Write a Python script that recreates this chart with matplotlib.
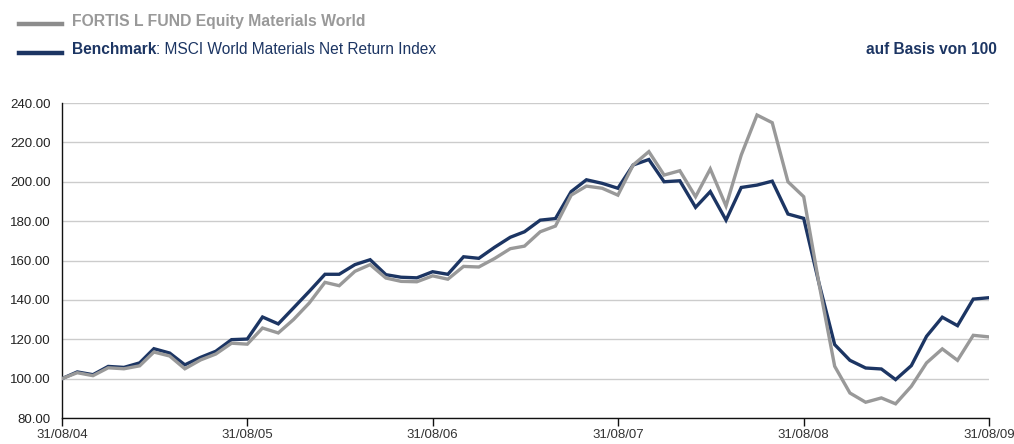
import numpy as np
import pandas as pd
import matplotlib
matplotlib.use("Agg")
import matplotlib.pyplot as plt

plt.rcParams['font.family'] = ['Liberation Sans', 'DejaVu Sans']

# monthly values, 31/08/04 .. 31/08/09
dates = pd.date_range('2004-08-31', '2009-08-31', freq='ME')

fund = [100, 103, 101.5, 105.5, 105, 106.5, 113.5, 111.5, 105, 109.5, 112.5, 118, 117.5,
        125.7, 123.2, 130, 138.4, 148.9, 147.2, 154.5, 157.9, 151.1, 149.4, 149.2, 152.2,
        150.5, 157, 156.7, 161, 166, 167.3, 174.6, 177.5, 193.2, 197.8, 196.7, 193.2,
        208.5, 215.3, 203.4, 205.6, 192.4, 206.5, 187.7, 213.6, 233.9, 230, 200, 192.4,
        148.4, 106.3, 92.7, 88, 90.2, 87.2, 96.1, 108, 115.1, 109.3, 122, 121.2]

benchmark = [100, 103.4, 102, 106.2, 105.7, 108, 115.2, 113, 107, 110.8, 113.9, 119.8, 120.1,
             131.3, 127.8, 135.9, 144.3, 153, 153, 157.9, 160.4, 152.8, 151.5, 151.2, 154.3,
             153, 161.9, 161.1, 166.7, 171.8, 174.6, 180.5, 181.3, 195, 201, 199.2, 196.7,
             208.5, 211.3, 200, 200.5, 187, 195, 180.5, 197.1, 198.3, 200.3, 183.6, 181.4,
             148.6, 117.3, 109.3, 105.4, 104.9, 99.5, 106.6, 121.5, 131.2, 126.9, 140.4, 141.1]

tick_dates = pd.to_datetime(['2004-08-31', '2005-08-31', '2006-08-31',
                             '2007-08-31', '2008-08-31', '2009-08-31'])
tick_labels = [d.strftime('%d/%m/%y') for d in tick_dates]
y_ticks = np.arange(80, 241, 20)

fund_color = '#999999'
bench_color = '#1c3563'

fig = plt.figure(figsize=(10.14, 4.44), dpi=100)
ax = fig.add_axes([62 / 1014, 1 - 418 / 444, (989 - 62) / 1014, (418 - 103) / 444])

ax.plot(dates, benchmark, color=bench_color, lw=2.4, solid_joinstyle='miter', zorder=3)
ax.plot(dates, fund, color=fund_color, lw=2.4, solid_joinstyle='miter', zorder=4)

ax.set_xlim(dates[0], dates[-1])
ax.set_ylim(80, 240)
ax.set_yticks(y_ticks)
ax.set_yticklabels([f'{v:.2f}' for v in y_ticks])
ax.set_xticks(tick_dates)
ax.set_xticklabels(tick_labels)
ax.yaxis.grid(True, color='#cccccc', lw=1.0)
ax.set_axisbelow(True)

for s in ['top', 'right']:
    ax.spines[s].set_visible(False)
for s in ['left', 'bottom']:
    ax.spines[s].set_color('#111111')
    ax.spines[s].set_linewidth(1.0)

ax.tick_params(axis='y', length=0, pad=8, labelsize=9.5, labelcolor='#222222')
ax.tick_params(axis='x', length=6, width=1.0, color='#111111', direction='out',
               pad=2, labelsize=9.5, labelcolor='#333333')

# header / legend
fig.add_artist(plt.Line2D([19 / 1014, 62 / 1014], [1 - 24 / 444] * 2,
                          color='#8c8c8c', lw=3.2))
fig.add_artist(plt.Line2D([19 / 1014, 62 / 1014], [1 - 53 / 444] * 2,
                          color=bench_color, lw=3.2))
fig.text(72 / 1014, 1 - 21.5 / 444, 'FORTIS L FUND Equity Materials World',
         fontsize=11.3, fontweight='bold', color='#999999', va='center', ha='left')
t1 = fig.text(72 / 1014, 1 - 50 / 444, 'Benchmark', fontsize=11.2,
              fontweight='bold', color=bench_color, va='center', ha='left')
ax.annotate(': MSCI World Materials Net Return Index', xy=(1, 0), xycoords=t1,
            va='bottom', ha='left', fontsize=11.2, color=bench_color,
            annotation_clip=False)
fig.text(997 / 1014, 1 - 50 / 444, 'auf Basis von 100', fontsize=11.2,
         fontweight='bold', color=bench_color, va='center', ha='right')

fig.savefig('out.png', dpi=100)
